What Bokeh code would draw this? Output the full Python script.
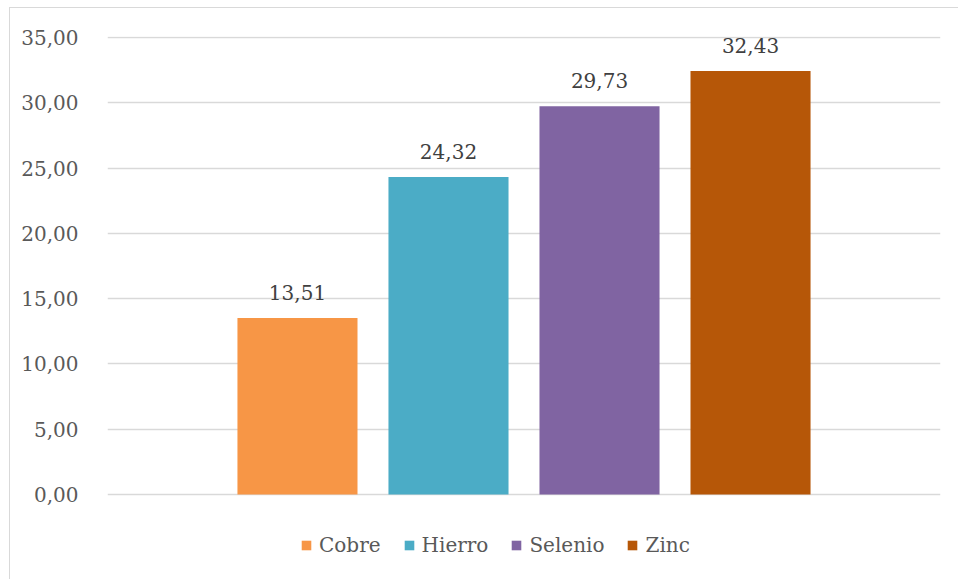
from bokeh.plotting import figure
from bokeh.models import (ColumnDataSource, FactorRange, Range1d, LabelSet, Legend,
                          LegendItem, FixedTicker, CustomJSTickFormatter)
from bokeh.core.properties import value
from bokeh.embed import file_html
from bokeh.resources import INLINE

categories = ["Cobre", "Hierro", "Selenio", "Zinc"]
values = [13.51, 24.32, 29.73, 32.43]
colors = ["#F79646", "#4BACC6", "#8064A2", "#B65708"]
labels = [f"{v:.2f}".replace(".", ",") for v in values]
y_ticks = [0, 5, 10, 15, 20, 25, 30, 35]

FONT = "DejaVu Serif"

src = ColumnDataSource(dict(cat=categories, val=values, color=colors, lab=labels))

# frame extends below zero to host the legend (as in the Excel chart area)
p = figure(width=949, height=572,
           x_range=FactorRange(factors=categories, range_padding=0.379, range_padding_units="percent"),
           y_range=Range1d(-6.586, 35.0766), output_backend="svg", toolbar_location=None,
           min_border_left=97, min_border_right=19, min_border_top=28, min_border_bottom=0)
p.margin = (7, 0, 0, 9)
p.styles = {"border-left": "1px solid #d9d9d9", "border-top": "1px solid #d9d9d9"}
p.outline_line_color = None
p.background_fill_color = "white"
p.border_fill_color = "white"

r = p.vbar(x="cat", top="val", width=0.795, color="color", source=src, line_color=None)

p.add_layout(LabelSet(x="cat", y="val", text="lab", source=src, text_align="center",
                      text_baseline="alphabetic", y_offset=18, text_font=value(FONT),
                      text_font_size=value("20px"), text_color=value("#404040")))

p.xaxis.visible = False
p.xgrid.visible = False
p.yaxis.ticker = FixedTicker(ticks=y_ticks)
p.yaxis.formatter = CustomJSTickFormatter(code="return tick.toFixed(2).replace('.', ',');")
p.yaxis.axis_line_color = None
p.yaxis.major_tick_line_color = None
p.yaxis.minor_tick_line_color = None
p.yaxis.major_label_standoff = 23
p.yaxis.major_label_text_font = FONT
p.yaxis.major_label_text_font_size = "20px"
p.yaxis.major_label_text_color = "#595959"
p.ygrid.ticker = FixedTicker(ticks=y_ticks)
p.ygrid.grid_line_color = "#D9D9D9"
p.ygrid.grid_line_width = 1.5

items = [LegendItem(label=c, renderers=[r], index=i) for i, c in enumerate(categories)]
legend = Legend(items=items, orientation="horizontal", location=(193, 23), margin=0,
                padding=0, spacing=22, glyph_width=12, glyph_height=12, label_standoff=7,
                label_text_font=FONT, label_text_font_size="20px", label_text_color="#595959",
                border_line_color=None, background_fill_alpha=0)
p.add_layout(legend)

open("out.html", "w").write(file_html(p, INLINE))
